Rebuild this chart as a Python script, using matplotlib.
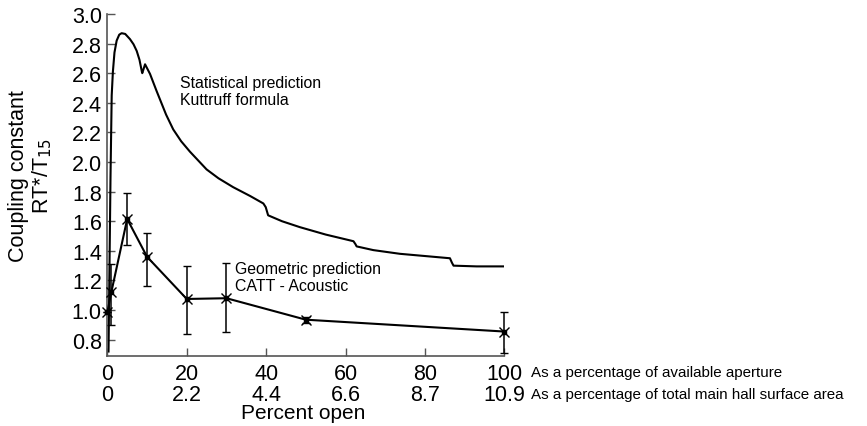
import matplotlib
matplotlib.use("Agg")
import matplotlib.pyplot as plt

plt.rcParams['font.family'] = ['Liberation Sans', 'DejaVu Sans']

# Statistical prediction (Kuttruff formula)
stat_x = [0.3, 0.8, 1.1, 1.4, 1.8, 2.35, 3.0, 3.6, 4.5, 5.7, 6.6, 7.4, 8.1, 8.7, 8.8, 9.5,
          10.75, 12.4, 13.3, 14.8, 16.6, 18.6, 20.8, 25.0, 28.0, 31.7, 36.0, 39.3, 39.9,
          40.5, 44.0, 48.5, 55.0, 62.0, 62.5, 62.8, 67.0, 73.7, 80.0, 86.3, 86.8, 87.2,
          93.0, 99.8]
stat_y = [0.72, 1.90, 2.45, 2.61, 2.74, 2.82, 2.86, 2.87, 2.865, 2.83, 2.795, 2.75, 2.69,
          2.61, 2.60, 2.66, 2.595, 2.48, 2.42, 2.32, 2.22, 2.14, 2.07, 1.95, 1.89, 1.83,
          1.77, 1.72, 1.695, 1.64, 1.60, 1.56, 1.51, 1.465, 1.445, 1.43, 1.405, 1.38, 1.365,
          1.35, 1.32, 1.30, 1.295, 1.295]

# Geometric prediction (CATT - Acoustic)
geo_x = [0, 1, 5, 10, 20, 30, 50, 100]
geo_y = [0.985, 1.12, 1.615, 1.36, 1.075, 1.08, 0.935, 0.855]
geo_lo = [0.985, 0.90, 1.44, 1.165, 0.84, 0.85, 0.915, 0.71]
geo_hi = [0.985, 1.31, 1.79, 1.52, 1.30, 1.32, 0.955, 0.99]

xticks = [0, 20, 40, 60, 80, 100]
xticks_area = ["0", "2.2", "4.4", "6.6", "8.7", "10.9"]
yticks = [0.8, 1.0, 1.2, 1.4, 1.6, 1.8, 2.0, 2.2, 2.4, 2.6, 2.8, 3.0]

fig = plt.figure(figsize=(8.67, 4.27), dpi=100)
ax = fig.add_axes([0.1238, 0.164, 0.4579, 0.801])

ax.plot(stat_x, stat_y, color='black', lw=1.5)

err = [[y - lo for y, lo in zip(geo_y, geo_lo)], [hi - y for y, hi in zip(geo_y, geo_hi)]]
ax.errorbar(geo_x, geo_y, yerr=err, color='black', lw=1.5, elinewidth=1.1,
            capsize=3, capthick=1.1, marker='x', ms=7, mew=1.0, clip_on=False, zorder=3)
ax.plot(geo_x, geo_y, 's', color='black', ms=3.5, clip_on=False, zorder=4)

ax.set_xlim(0, 100)
ax.set_ylim(0.69, 3.0)
ax.set_xticks(xticks)
ax.set_xticklabels([f"{a}\n{b}" for a, b in zip(xticks, xticks_area)], fontsize=15.5,
                   linespacing=1.0)
ax.set_yticks(yticks)
ax.set_yticklabels([f"{v:.1f}" for v in yticks], fontsize=15.5)
ax.tick_params(direction='in', length=6, width=1, color='#555555', pad=4)
ax.tick_params(axis='x', pad=5)

for s in ['top', 'right']:
    ax.spines[s].set_visible(False)
for s in ['left', 'bottom']:
    ax.spines[s].set_color('#555555')
    ax.spines[s].set_linewidth(1.2)

ax.set_xlabel("Percent open", fontsize=15, va='center')
ax.xaxis.set_label_coords(0.494, -(414 - 357) / 342)

fig.text(0.021, 1 - 176 / 427, "Coupling constant", rotation=90, fontsize=15.5,
         ha='center', va='center')
fig.text(0.049, 1 - 176 / 427, "RT*/T$_{15}$", rotation=90, fontsize=15.5,
         ha='center', va='center')

ax.text(18.3, 2.54, "Statistical prediction", fontsize=11.4, va='center')
ax.text(18.3, 2.42, "Kuttruff formula", fontsize=11.4, va='center')
ax.text(32.2, 1.28, "Geometric prediction", fontsize=11.4, va='center')
ax.text(32.2, 1.165, "CATT - Acoustic", fontsize=11.4, va='center')

fig.text(0.612, 1 - 373 / 427, "As a percentage of available aperture", fontsize=10.9,
         va='center')
fig.text(0.612, 1 - 395 / 427, "As a percentage of total main hall surface area",
         fontsize=10.9, va='center')

fig.savefig("out.png", dpi=100)
